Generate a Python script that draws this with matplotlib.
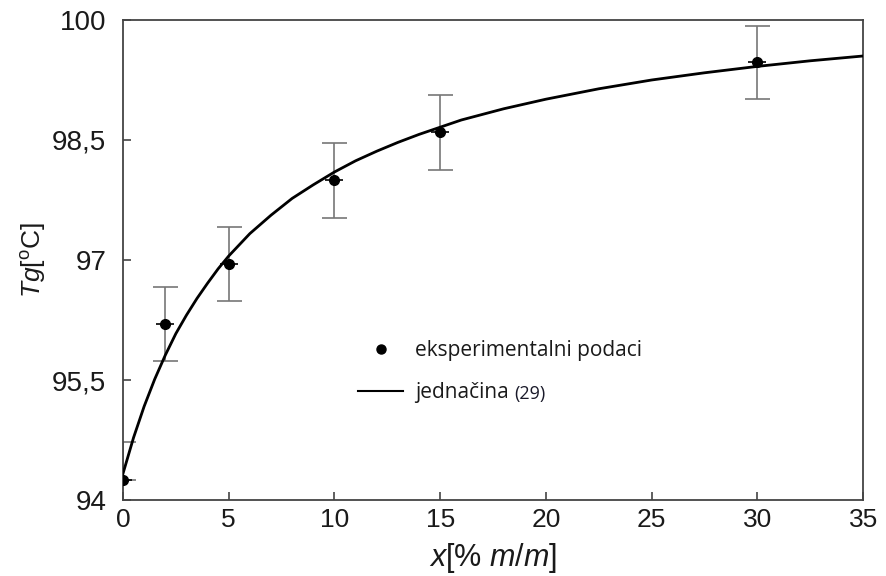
import matplotlib
matplotlib.use("Agg")
import matplotlib.pyplot as plt
from matplotlib.lines import Line2D
from matplotlib.ticker import FuncFormatter

# experimental points
x_exp = [0, 2, 5, 10, 15, 30]
tg_exp = [94.25, 96.2, 96.95, 98.0, 98.6, 99.47]
err_low = [0.0, 0.46, 0.46, 0.47, 0.47, 0.46]
err_high = [0.47, 0.46, 0.46, 0.46, 0.46, 0.46]

# curve "jednacina (29)"
x_fit = [0, 0.5, 1, 1.5, 2, 2.5, 3, 3.5, 4, 4.5, 5, 6, 7, 8, 9, 10, 11,
         12, 13, 14, 15, 16, 17, 18, 19, 20, 22.5, 25, 27.5, 30, 32.5, 35]
tg_fit = [94.33, 94.78, 95.17, 95.51, 95.81, 96.08, 96.31, 96.52, 96.71,
          96.89, 97.05, 97.33, 97.56, 97.77, 97.94, 98.10, 98.24, 98.36,
          98.47, 98.57, 98.66, 98.75, 98.82, 98.89, 98.95, 99.01, 99.14,
          99.25, 99.34, 99.42, 99.49, 99.55]

y_ticks = [94, 95.5, 97, 98.5, 100]
x_ticks = [0, 5, 10, 15, 20, 25, 30, 35]

plt.rcParams['font.family'] = ['Liberation Sans', 'DejaVu Sans']
plt.rcParams['mathtext.fontset'] = 'custom'
plt.rcParams['mathtext.rm'] = 'Liberation Sans'
plt.rcParams['mathtext.it'] = 'Liberation Sans:italic'

fig = plt.figure(figsize=(8.86, 5.76), dpi=100)
ax = fig.add_axes([0.1388, 0.1319, 0.8354, 0.8334])

ax.plot(x_fit, tg_fit, color='black', lw=2, zorder=3)
ax.errorbar(x_exp, tg_exp, yerr=[err_low, err_high], fmt='none',
            ecolor='#777777', elinewidth=1.2, capsize=9, capthick=1.2,
            zorder=2)
ax.plot(x_exp, tg_exp, linestyle='none', marker='_', markersize=13,
        color='black', mew=1.2, zorder=4)
ax.plot(x_exp, tg_exp, linestyle='none', marker='o', markersize=7,
        color='black', zorder=5)

ax.set_xlim(0, 35)
ax.set_ylim(94, 100)
ax.set_xticks(x_ticks)
ax.set_yticks(y_ticks)
ax.yaxis.set_major_formatter(FuncFormatter(
    lambda v, p: (f"{v:g}").replace('.', ',')))
ax.tick_params(direction='in', length=6, width=1.2, color='#444444',
               labelsize=19, labelcolor='#1a1a1a', pad=6)
ax.tick_params(axis='y', labelsize=20, pad=12)
for s in ax.spines.values():
    s.set_color('#444444')
    s.set_linewidth(1.3)

ax.set_xlabel(r'$x$[% $m$/$m$]', fontsize=22, color='#1a1a1a', labelpad=6)
ax.set_ylabel(r'$Tg$[$^{\mathrm{o}}$C]', fontsize=19, color='#1a1a1a',
              labelpad=3)

handles = [
    Line2D([], [], linestyle='none', marker='o', markersize=6.5,
           color='black'),
    Line2D([], [], color='black', lw=1.5),
]
leg = ax.legend(handles, ['eksperimentalni podaci', 'jednačina'],
                loc='upper left', bbox_to_anchor=(0.3068, 0.35),
                borderaxespad=0, frameon=False,
                prop={'family': 'Open Sans', 'size': 15}, handlelength=2.16,
                handletextpad=0.55, labelspacing=1.0, labelcolor='#1a1a1a')
ax.annotate('(29)', xy=(1, 0), xycoords=leg.get_texts()[1],
            xytext=(4, 0), textcoords='offset points', va='bottom',
            ha='left', fontsize=13, family='Open Sans', color='#1a1a2a',
            zorder=10)

fig.savefig("out.png", dpi=100)
